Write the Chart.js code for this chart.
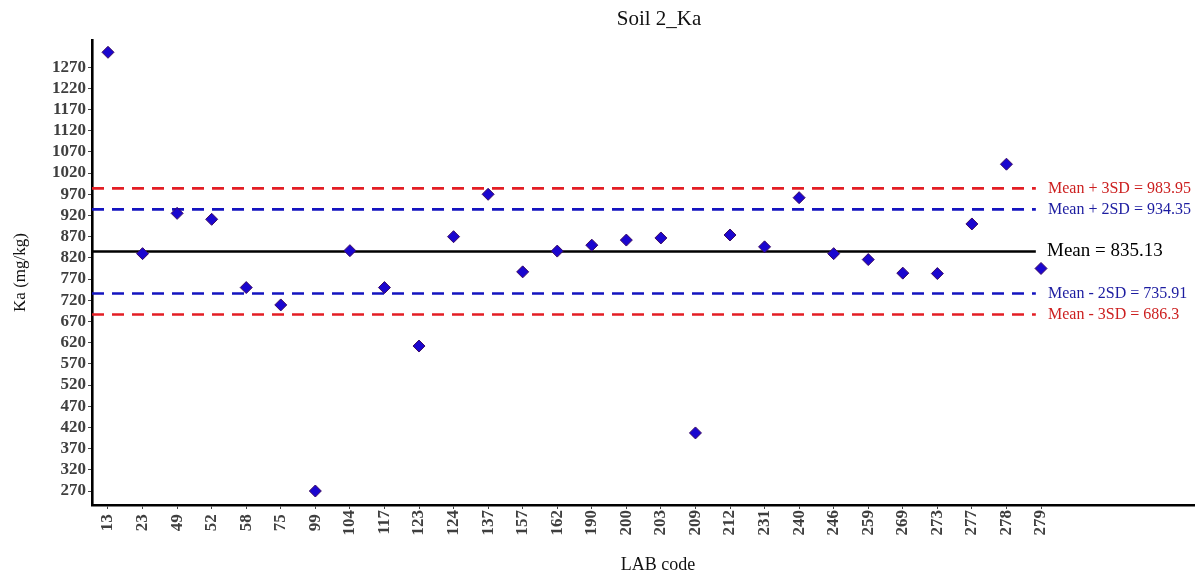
<!DOCTYPE html>
<html>
<head>
<meta charset="utf-8">
<script src="https://cdn.jsdelivr.net/npm/chart.js@4/dist/chart.umd.min.js"></script>
<style>
html,body{margin:0;padding:0;background:#fff;}
#wrap{width:1195px;height:573px;position:relative;}
</style>
</head>
<body>
<div id="wrap"><canvas id="c" width="1195" height="573"></canvas></div>
<script>
// ---- data ----
const labCodes = ['13','23','49','52','58','75','99','104','117','123','124','137','157','162','190','200','203','209','212','231','240','246','259','269','273','277','278','279'];
const kaValues = [1305, 830, 925, 911, 750, 709, 270, 837, 750, 612, 870, 970, 787, 836, 850, 862, 867, 407, 874, 846, 962, 830, 816, 784, 783, 900, 1041, 795];
const yTickValues = [270,320,370,420,470,520,570,620,670,720,770,820,870,920,970,1020,1070,1120,1170,1220,1270];
const meanValue = 835.13;
const plus2SD = 934.35;
const minus2SD = 735.91;
const plus3SD = 983.95;
const minus3SD = 686.3;
const refLabels = {
  plus3: 'Mean + 3SD = 983.95',
  plus2: 'Mean + 2SD = 934.35',
  mean: 'Mean = 835.13',
  minus2: 'Mean - 2SD = 735.91',
  minus3: 'Mean - 3SD = 686.3'
};
const chartTitle = 'Soil 2_Ka';
const xTitle = 'LAB code';
const yTitle = 'Ka (mg/kg)';

const SERIF = "'Liberation Serif','Times New Roman',serif";
const X_MIN = -0.463, X_MAX = 31.456, LINE_END = 26.85;
const RED = '#e31e24', BLUE = '#1414c0';

function refLine(v, color, dashed){
  return {
    type:'line',
    data:[{x:X_MIN,y:v},{x:LINE_END,y:v}],
    borderColor:color,
    borderWidth:2.6,
    borderDash: dashed ? [12,8] : [],
    pointRadius:0,
    fill:false,
    order:2
  };
}

const labelPlugin = {
  id:'refLabels',
  afterDatasetsDraw(chart){
    const ctx = chart.ctx;
    const xs = chart.scales.x, ys = chart.scales.y;
    const x0 = xs.getPixelForValue(27);
    ctx.save();
    ctx.textBaseline = 'middle';
    ctx.textAlign = 'left';
    ctx.font = '16px ' + SERIF;
    ctx.fillStyle = '#cc1f1f';
    ctx.fillText(refLabels.plus3, x0 + 7, ys.getPixelForValue(plus3SD));
    ctx.fillText(refLabels.minus3, x0 + 7, ys.getPixelForValue(minus3SD));
    ctx.fillStyle = '#1c1ca0';
    ctx.fillText(refLabels.plus2, x0 + 7, ys.getPixelForValue(plus2SD));
    ctx.fillText(refLabels.minus2, x0 + 7, ys.getPixelForValue(minus2SD));
    ctx.fillStyle = '#000';
    ctx.font = '19px ' + SERIF;
    ctx.fillText(refLabels.mean, x0 + 6, ys.getPixelForValue(meanValue));
    // chart title and x-axis title
    ctx.textAlign = 'center';
    ctx.fillStyle = '#111';
    ctx.font = '21px ' + SERIF;
    ctx.fillText(chartTitle, 659, 19);
    ctx.font = '18px ' + SERIF;
    ctx.fillText(xTitle, 658, 565);
    ctx.restore();
  }
};

new Chart(document.getElementById('c'), {
  type:'scatter',
  data:{
    datasets:[
      refLine(plus3SD, RED, true),
      refLine(plus2SD, BLUE, true),
      refLine(meanValue, '#000', false),
      refLine(minus2SD, BLUE, true),
      refLine(minus3SD, RED, true),
      {
        type:'scatter',
        data: kaValues.map((v,i)=>({x:i,y:v})),
        pointStyle:'rectRot',
        pointRadius:6,
        backgroundColor:'#1a06cf',
        borderColor:'#3b0a63',
        borderWidth:1,
        order:1
      }
    ]
  },
  options:{
    responsive:false,
    animation:false,
    layout:{autoPadding:false,padding:{left:10,right:0,top:40,bottom:0}},
    plugins:{
      legend:{display:false},
      tooltip:{enabled:false},
      title:{display:false}
    },
    scales:{
      x:{
        type:'linear',
        min:X_MIN,
        max:X_MAX,
        afterBuildTicks(scale){ scale.ticks = labCodes.map((_,i)=>({value:i})); },
        afterFit(scale){ scale.height = 68; scale.paddingLeft = 0; scale.paddingRight = 0; },
        ticks:{
          autoSkip:false,
          minRotation:90,
          maxRotation:90,
          padding:1,
          color:'#3f3f3f',
          font:{family:SERIF,size:17,weight:'bold'},
          callback(v){ const s = labCodes[v]; return s ? (s.length < 3 ? s + '\u2005' : s) : ''; }
        },
        grid:{display:true,drawOnChartArea:false,drawTicks:true,tickLength:4,color:'#444'},
        border:{display:true,color:'#000',width:2.6},
        title:{display:false}
      },
      y:{
        type:'linear',
        min:237,
        max:1334,
        afterBuildTicks(scale){ scale.ticks = yTickValues.map(v=>({value:v})); },
        afterFit(scale){ scale.width = 82; scale.paddingTop = 0; scale.paddingBottom = 0; },
        ticks:{
          autoSkip:false,
          padding:2,
          color:'#3f3f3f',
          font:{family:SERIF,size:17,weight:'bold'},
          callback(v){ return String(v); }
        },
        grid:{display:true,drawOnChartArea:false,drawTicks:true,tickLength:4,color:'#444'},
        border:{display:true,color:'#000',width:2.6},
        title:{display:true,text:yTitle,color:'#111',font:{family:SERIF,size:17,weight:'normal'},padding:{top:0,bottom:0}}
      }
    }
  },
  plugins:[labelPlugin]
});
</script>
</body>
</html>
